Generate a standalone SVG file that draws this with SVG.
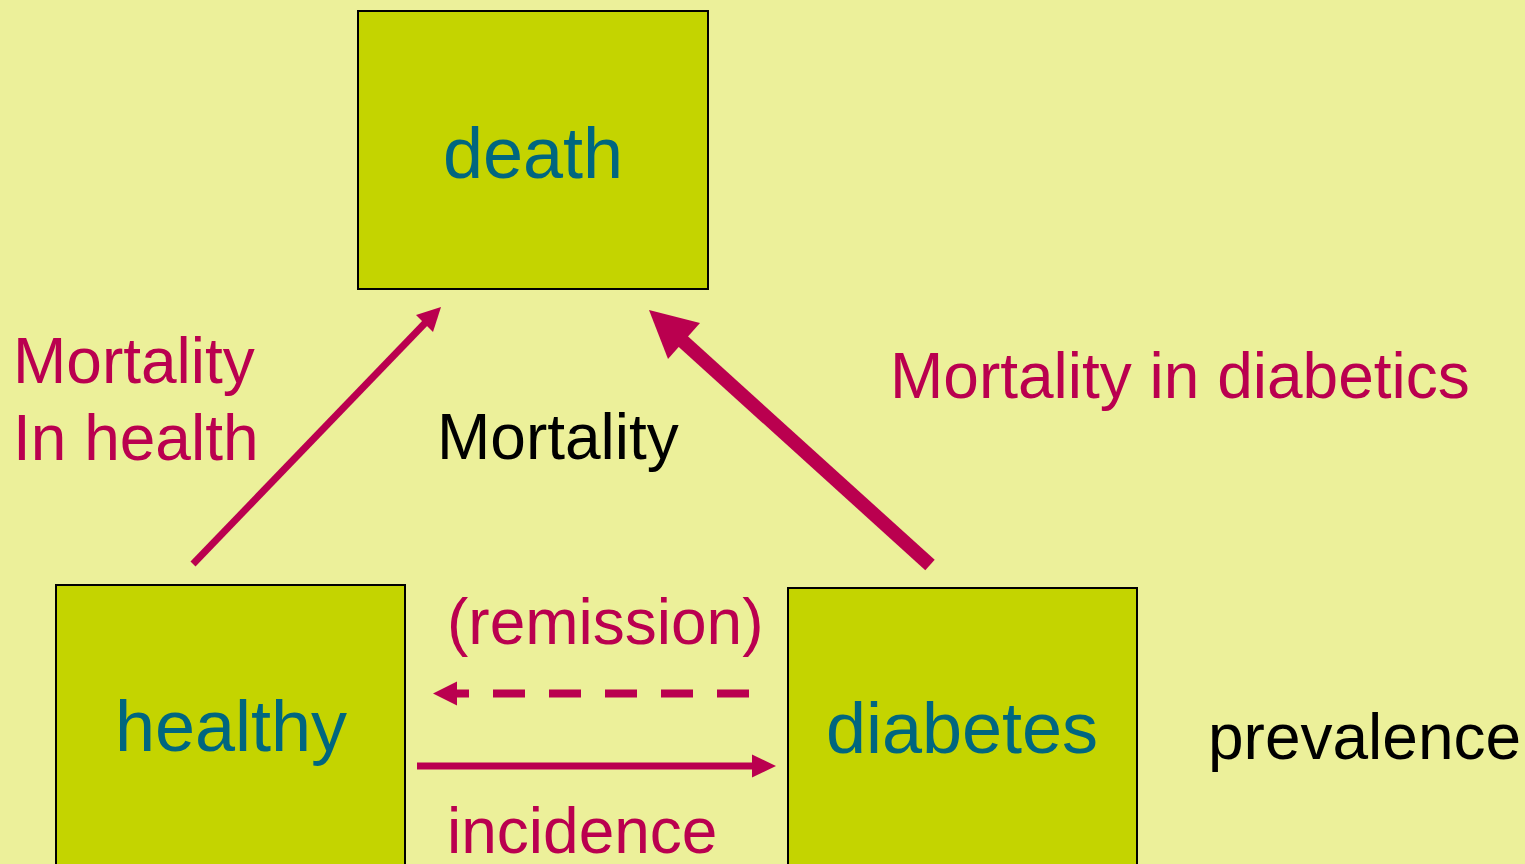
<svg xmlns="http://www.w3.org/2000/svg" width="1525" height="864" viewBox="0 0 1525 864">
<style>
.box{fill:#C4D400;stroke:#000;stroke-width:2}
.bt{font-family:"Liberation Sans",Arial,sans-serif;font-size:72px;fill:#00667F;text-anchor:middle}
.lr{font-family:"Liberation Sans",Arial,sans-serif;font-size:64px;fill:#BA004F}
.lk{font-family:"Liberation Sans",Arial,sans-serif;font-size:64px;fill:#000}
.ar{stroke:#BA004F;fill:none}
.ah{fill:#BA004F}
</style>
<rect width="1525" height="864" fill="#ECF09A"/>
<g id="death"><rect class="box" x="358" y="11" width="350" height="278"/><text class="bt" x="533" y="178">death</text></g>
<g id="healthy"><rect class="box" x="56" y="585" width="349" height="290"/><text class="bt" x="231" y="751">healthy</text></g>
<g id="diabetes"><rect class="box" x="788" y="588" width="349" height="290"/><text class="bt" x="962" y="753">diabetes</text></g>
<g id="connectors">
<line class="ar" x1="193" y1="564" x2="428" y2="320" stroke-width="7"/>
<polygon class="ah" points="441,307 416,315 433,332"/>
<line class="ar" x1="930" y1="565" x2="676" y2="335" stroke-width="14"/>
<polygon class="ah" points="649,310 700,323 668,359"/>
<line class="ar" x1="749" y1="693.5" x2="452" y2="693.5" stroke-width="8" stroke-dasharray="32 24"/>
<polygon class="ah" points="433,693.5 457,681.5 457,705.5"/>
<line class="ar" x1="417" y1="766" x2="755" y2="766" stroke-width="7"/>
<polygon class="ah" points="776,766 752,754.5 752,777.5"/>
</g>
<g id="labels">
<text class="lr" x="13" y="383">Mortality</text>
<text class="lr" x="13" y="460">In health</text>
<text class="lk" x="437" y="459">Mortality</text>
<text class="lr" x="890" y="398">Mortality in diabetics</text>
<text class="lr" x="447" y="644">(remission)</text>
<text class="lr" x="447" y="853">incidence</text>
<text class="lk" x="1208" y="759">prevalence</text>
</g>
</svg>
